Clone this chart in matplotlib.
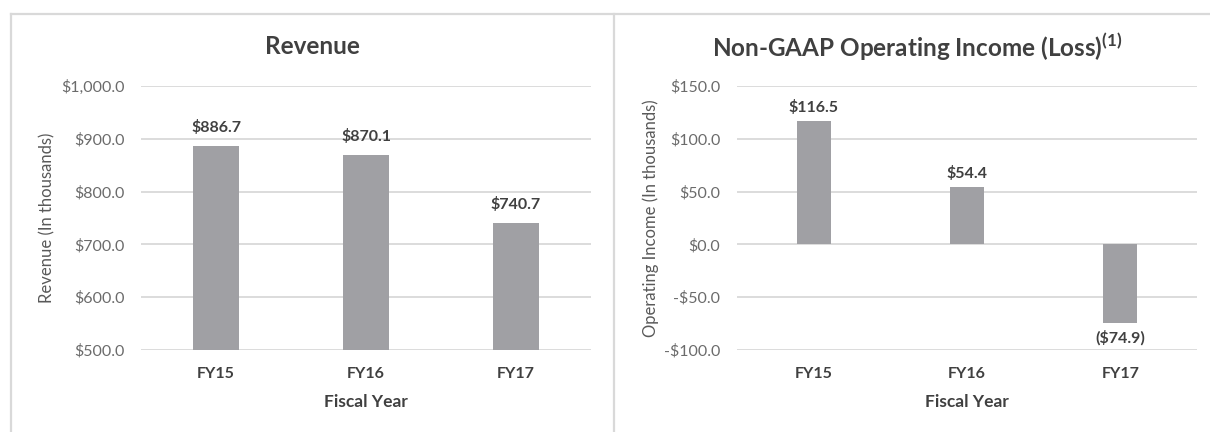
import matplotlib
matplotlib.use("Agg")
import matplotlib.pyplot as plt
from matplotlib.ticker import FuncFormatter, MultipleLocator
from matplotlib.lines import Line2D
import numpy as np

# data
years = ["FY15", "FY16", "FY17"]
revenue = [886.7, 870.1, 740.7]
op_income = [116.5, 54.4, -74.9]

plt.rcParams["font.family"] = ["Lato", "DejaVu Sans"]
plt.rcParams["mathtext.fontset"] = "custom"
plt.rcParams["mathtext.rm"] = "Lato"
plt.rcParams["mathtext.bf"] = "Lato:bold"

BAR = "#a0a0a4"
DARK = "#404040"
TICK = "#6b6b6b"
GRID = "#d9d9d9"


def money(v, pos=None):
    if v < 0:
        return f"-${abs(v):,.1f}"
    return f"${v:,.1f}"


def label(v):
    if v < 0:
        return f"(${abs(v):,.1f})"
    return f"${v:,.1f}"


fig = plt.figure(figsize=(12.1, 4.32), dpi=100)
ax1 = fig.add_axes([141 / 1210, 1 - 350 / 432, 450 / 1210, 264 / 432])
ax2 = fig.add_axes([737 / 1210, 1 - 350 / 432, 460 / 1210, 264 / 432])


def style(ax, lo, hi, step):
    ax.set_ylim(lo, hi)
    ax.set_xlim(-0.5, 2.5)
    ax.yaxis.set_major_locator(MultipleLocator(step))
    ax.yaxis.set_major_formatter(FuncFormatter(money))
    ax.grid(axis="y", color=GRID, lw=1.3)
    ax.set_axisbelow(True)
    for s in ax.spines.values():
        s.set_visible(False)
    ax.tick_params(axis="both", length=0)
    ax.tick_params(axis="y", pad=12, labelsize=11.5, labelcolor=TICK)
    ax.tick_params(axis="x", pad=12, labelsize=11.5, labelcolor=DARK)
    ax.set_xticks(range(len(years)))
    ax.set_xticklabels(years, fontweight="bold")


x = np.arange(len(years))

# Revenue
style(ax1, 500, 1000, 100)
ax1.bar(x, np.array(revenue) - 500, bottom=500, width=0.313, color=BAR)
for xi, v in zip(x, revenue):
    ax1.annotate(label(v), (xi, v), xytext=(0, 13), textcoords="offset points",
                 ha="center", va="center", fontsize=11.5, fontweight="bold", color=DARK)
ax1.text(0.5, -0.197, "Fiscal Year", transform=ax1.transAxes, ha="center", va="center",
         fontsize=12.5, fontweight="bold", color=DARK)
ax1.text(-0.209, 0.5, "Revenue (In thousands)", transform=ax1.transAxes, rotation=90,
         ha="center", va="center", fontsize=12, color="#595959")

# Operating income
style(ax2, -100, 150, 50)
ax2.bar(x, op_income, width=0.222, color=BAR)
for xi, v in zip(x, op_income):
    off = 10 if v >= 0 else -10
    ax2.annotate(label(v), (xi, v), xytext=(0, off), textcoords="offset points",
                 ha="center", va="center", fontsize=11.5, fontweight="bold", color=DARK)
ax2.text(0.5, -0.197, "Fiscal Year", transform=ax2.transAxes, ha="center", va="center",
         fontsize=12.5, fontweight="bold", color=DARK)
ax2.text(-0.187, 0.5, "Operating Income (In thousands)", transform=ax2.transAxes, rotation=90,
         ha="center", va="center", fontsize=12, color="#595959")

# titles
fig.text(312 / 1210, 1 - 47 / 432, "Revenue", ha="center", va="center",
         fontsize=17.5, fontweight="bold", color=DARK)
fig.text(917 / 1210, 1 - 47 / 432, r"Non-GAAP Operating Income (Loss)$^{\mathbf{(1)}}$",
         ha="center", va="center", fontsize=17.5, fontweight="bold", color=DARK)

# panel borders
top = 1 - 13.5 / 432
for line in [
    Line2D([11 / 1210, 1], [top, top]),
    Line2D([11 / 1210, 11 / 1210], [0, top]),
    Line2D([614 / 1210, 614 / 1210], [0, top]),
]:
    line.set_color(GRID)
    line.set_linewidth(1.6)
    line.set_transform(fig.transFigure)
    fig.add_artist(line)

fig.savefig("out.png", dpi=100, facecolor="white")
